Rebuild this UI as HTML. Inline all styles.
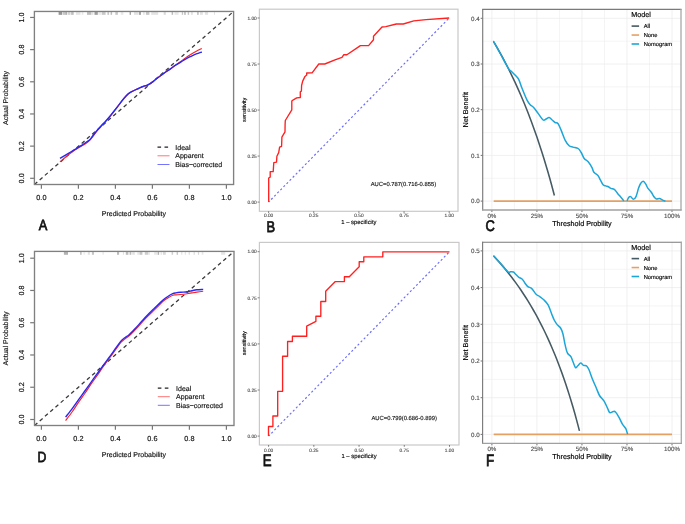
<!DOCTYPE html><html><head><meta charset="utf-8"><style>html,body{margin:0;padding:0;background:#fff;}svg{display:block;will-change:transform;}text{font-family:"Liberation Sans", sans-serif;text-rendering:geometricPrecision;}</style></head><body>
<svg width="685" height="524" viewBox="0 0 685 524">
<rect width="685" height="524" fill="#fff"/>
<g>
<line x1="41.4" y1="184.5" x2="41.4" y2="188.8" stroke="#777" stroke-width="1.2"/>
<text x="41.4" y="200" font-size="7.3" text-anchor="middle" fill="#111" stroke="#111" stroke-width="0.16">0.0</text>
<line x1="30.1" y1="178.3" x2="34.4" y2="178.3" stroke="#777" stroke-width="1.2"/>
<text x="24.4" y="178.3" font-size="7.3" text-anchor="middle" fill="#111" transform="rotate(-90 24.4 178.3)" stroke="#111" stroke-width="0.16">0.0</text>
<line x1="78.4" y1="184.5" x2="78.4" y2="188.8" stroke="#777" stroke-width="1.2"/>
<text x="78.4" y="200" font-size="7.3" text-anchor="middle" fill="#111" stroke="#111" stroke-width="0.16">0.2</text>
<line x1="30.1" y1="146.13" x2="34.4" y2="146.13" stroke="#777" stroke-width="1.2"/>
<text x="24.4" y="146.13" font-size="7.3" text-anchor="middle" fill="#111" transform="rotate(-90 24.4 146.13)" stroke="#111" stroke-width="0.16">0.2</text>
<line x1="115.4" y1="184.5" x2="115.4" y2="188.8" stroke="#777" stroke-width="1.2"/>
<text x="115.4" y="200" font-size="7.3" text-anchor="middle" fill="#111" stroke="#111" stroke-width="0.16">0.4</text>
<line x1="30.1" y1="113.96" x2="34.4" y2="113.96" stroke="#777" stroke-width="1.2"/>
<text x="24.4" y="113.96" font-size="7.3" text-anchor="middle" fill="#111" transform="rotate(-90 24.4 113.96)" stroke="#111" stroke-width="0.16">0.4</text>
<line x1="152.4" y1="184.5" x2="152.4" y2="188.8" stroke="#777" stroke-width="1.2"/>
<text x="152.4" y="200" font-size="7.3" text-anchor="middle" fill="#111" stroke="#111" stroke-width="0.16">0.6</text>
<line x1="30.1" y1="81.79" x2="34.4" y2="81.79" stroke="#777" stroke-width="1.2"/>
<text x="24.4" y="81.79" font-size="7.3" text-anchor="middle" fill="#111" transform="rotate(-90 24.4 81.79)" stroke="#111" stroke-width="0.16">0.6</text>
<line x1="189.4" y1="184.5" x2="189.4" y2="188.8" stroke="#777" stroke-width="1.2"/>
<text x="189.4" y="200" font-size="7.3" text-anchor="middle" fill="#111" stroke="#111" stroke-width="0.16">0.8</text>
<line x1="30.1" y1="49.62" x2="34.4" y2="49.62" stroke="#777" stroke-width="1.2"/>
<text x="24.4" y="49.62" font-size="7.3" text-anchor="middle" fill="#111" transform="rotate(-90 24.4 49.62)" stroke="#111" stroke-width="0.16">0.8</text>
<line x1="226.4" y1="184.5" x2="226.4" y2="188.8" stroke="#777" stroke-width="1.2"/>
<text x="226.4" y="200" font-size="7.3" text-anchor="middle" fill="#111" stroke="#111" stroke-width="0.16">1.0</text>
<line x1="30.1" y1="17.45" x2="34.4" y2="17.45" stroke="#777" stroke-width="1.2"/>
<text x="24.4" y="17.45" font-size="7.3" text-anchor="middle" fill="#111" transform="rotate(-90 24.4 17.45)" stroke="#111" stroke-width="0.16">1.0</text>
<text x="133.9" y="215.8" font-size="7" text-anchor="middle" fill="#111" stroke="#111" stroke-width="0.15">Predicted Probability</text>
<text x="7.6" y="97.98" font-size="7" text-anchor="middle" fill="#111" transform="rotate(-90 7.6 97.98)" stroke="#111" stroke-width="0.15">Actual Probability</text>
<rect x="58.6" y="11.66" width="3.5" height="3.2" fill="#000" fill-opacity="0.41"/>
<rect x="62.7" y="11.66" width="2.9" height="3.2" fill="#000" fill-opacity="0.22"/>
<rect x="65.6" y="11.66" width="1.2" height="3.2" fill="#000" fill-opacity="0.34"/>
<rect x="66.8" y="11.66" width="0.3" height="3.2" fill="#000" fill-opacity="0.22"/>
<rect x="67.7" y="11.66" width="2.3" height="3.2" fill="#000" fill-opacity="0.17"/>
<rect x="70.6" y="11.66" width="2" height="3.2" fill="#000" fill-opacity="0.22"/>
<rect x="72.6" y="11.66" width="0.9" height="3.2" fill="#000" fill-opacity="0.34"/>
<rect x="75.9" y="11.66" width="4.6" height="3.2" fill="#000" fill-opacity="0.1"/>
<rect x="81.7" y="11.66" width="1.7" height="3.2" fill="#000" fill-opacity="0.09"/>
<rect x="87" y="11.66" width="4" height="3.2" fill="#000" fill-opacity="0.25"/>
<rect x="91" y="11.66" width="2.4" height="3.2" fill="#000" fill-opacity="0.11"/>
<rect x="94.5" y="11.66" width="3.3" height="3.2" fill="#000" fill-opacity="0.38"/>
<rect x="98.3" y="11.66" width="3" height="3.2" fill="#000" fill-opacity="0.08"/>
<rect x="101.8" y="11.66" width="3.8" height="3.2" fill="#000" fill-opacity="0.21"/>
<rect x="107.4" y="11.66" width="1.7" height="3.2" fill="#000" fill-opacity="0.22"/>
<rect x="110.6" y="11.66" width="1.5" height="3.2" fill="#000" fill-opacity="0.26"/>
<rect x="115.3" y="11.66" width="2.6" height="3.2" fill="#000" fill-opacity="0.21"/>
<rect x="120.8" y="11.66" width="2.6" height="3.2" fill="#000" fill-opacity="0.09"/>
<rect x="129.6" y="11.66" width="1.4" height="3.2" fill="#000" fill-opacity="0.34"/>
<rect x="134" y="11.66" width="4.3" height="3.2" fill="#000" fill-opacity="0.11"/>
<rect x="138.9" y="11.66" width="2.1" height="3.2" fill="#000" fill-opacity="0.34"/>
<rect x="143" y="11.66" width="1.8" height="3.2" fill="#000" fill-opacity="0.09"/>
<rect x="145.9" y="11.66" width="3.5" height="3.2" fill="#000" fill-opacity="0.22"/>
<rect x="151.2" y="11.66" width="7" height="3.2" fill="#000" fill-opacity="0.11"/>
<rect x="163.7" y="11.66" width="2.1" height="3.2" fill="#000" fill-opacity="0.15"/>
<rect x="171.6" y="11.66" width="1.5" height="3.2" fill="#000" fill-opacity="0.26"/>
<rect x="174.5" y="11.66" width="4.1" height="3.2" fill="#000" fill-opacity="0.09"/>
<rect x="181.8" y="11.66" width="1.2" height="3.2" fill="#000" fill-opacity="0.22"/>
<rect x="183.9" y="11.66" width="2" height="3.2" fill="#000" fill-opacity="0.22"/>
<rect x="187.7" y="11.66" width="1.4" height="3.2" fill="#000" fill-opacity="0.22"/>
<rect x="190.9" y="11.66" width="2" height="3.2" fill="#000" fill-opacity="0.11"/>
<rect x="197" y="11.66" width="1.8" height="3.2" fill="#000" fill-opacity="0.22"/>
<rect x="200" y="11.66" width="2.9" height="3.2" fill="#000" fill-opacity="0.11"/>
<rect x="204.9" y="11.66" width="3.2" height="3.2" fill="#000" fill-opacity="0.11"/>
<rect x="214" y="11.66" width="1" height="3.2" fill="#000" fill-opacity="0.11"/>
<line x1="34.4" y1="184.5" x2="233.6" y2="11.46" stroke="#3a3a3a" stroke-width="1.3" stroke-dasharray="3.8 3.16"/>
<path d="M60,161.9 C60.92,161.12 63.72,158.68 65.5,157.2 C67.28,155.72 68.95,154.32 70.7,153 C72.45,151.68 74.25,150.43 76,149.3 C77.75,148.17 79.45,147.25 81.2,146.2 C82.95,145.15 85.1,143.97 86.5,143 C87.9,142.03 88.55,141.45 89.6,140.4 C90.65,139.35 91.57,138.27 92.8,136.7 C94.03,135.13 95.6,132.73 97,131 C98.4,129.27 99.8,127.83 101.2,126.3 C102.6,124.77 104.02,123.35 105.4,121.8 C106.78,120.25 107.65,119.28 109.5,117 C111.35,114.72 114.15,111.13 116.5,108.1 C118.85,105.07 121.65,101.17 123.6,98.8 C125.55,96.43 126.67,95.18 128.2,93.9 C129.73,92.62 131.08,92 132.8,91.1 C134.52,90.2 136.78,89.27 138.5,88.5 C140.22,87.73 141.57,87.08 143.1,86.5 C144.63,85.92 146.17,85.72 147.7,85 C149.23,84.28 151.08,83.03 152.3,82.2 C153.52,81.37 153.68,81.03 155,80 C156.32,78.97 158.48,77.28 160.2,76 C161.92,74.72 163.58,73.5 165.3,72.3 C167.02,71.1 168.78,70 170.5,68.8 C172.22,67.6 173.88,66.32 175.6,65.1 C177.32,63.88 179.08,62.75 180.8,61.5 C182.52,60.25 184.18,58.82 185.9,57.6 C187.62,56.38 189.37,55.27 191.1,54.2 C192.83,53.13 194.52,52.17 196.3,51.2 C198.08,50.23 200.88,48.87 201.8,48.4" fill="none" stroke="#ff1f1f" stroke-width="1.15" stroke-linejoin="round"/>
<path d="M60,158.3 C60.92,157.77 63.72,156.15 65.5,155.1 C67.28,154.05 68.95,153.05 70.7,152 C72.45,150.95 74.25,149.85 76,148.8 C77.75,147.75 79.45,146.83 81.2,145.7 C82.95,144.57 85.02,143.05 86.5,142 C87.98,140.95 89.05,140.45 90.1,139.4 C91.15,138.35 91.65,137.18 92.8,135.7 C93.95,134.22 95.6,132.17 97,130.5 C98.4,128.83 99.8,127.2 101.2,125.7 C102.6,124.2 104.02,122.98 105.4,121.5 C106.78,120.02 107.65,119.05 109.5,116.8 C111.35,114.55 114.15,111 116.5,108 C118.85,105 121.65,101.15 123.6,98.8 C125.55,96.45 126.67,95.18 128.2,93.9 C129.73,92.62 131.08,92 132.8,91.1 C134.52,90.2 136.78,89.27 138.5,88.5 C140.22,87.73 141.57,87.08 143.1,86.5 C144.63,85.92 146.17,85.72 147.7,85 C149.23,84.28 151.08,83.03 152.3,82.2 C153.52,81.37 153.68,81.03 155,80 C156.32,78.97 158.48,77.28 160.2,76 C161.92,74.72 163.58,73.5 165.3,72.3 C167.02,71.1 168.78,69.98 170.5,68.8 C172.22,67.62 173.88,66.32 175.6,65.2 C177.32,64.08 179.08,63.15 180.8,62.1 C182.52,61.05 184.18,59.87 185.9,58.9 C187.62,57.93 189.37,57.13 191.1,56.3 C192.83,55.47 194.52,54.62 196.3,53.9 C198.08,53.18 200.88,52.32 201.8,52" fill="none" stroke="#2828f4" stroke-width="1.4" stroke-linejoin="round"/>
<rect x="34.4" y="11.46" width="199.2" height="173.04" fill="none" stroke="#808080" stroke-width="1.35"/>
<line x1="157.5" y1="147.1" x2="169" y2="147.1" stroke="#222" stroke-width="1.1" stroke-dasharray="3.6 3.4"/>
<line x1="157.5" y1="155.8" x2="169.5" y2="155.8" stroke="#ff5050" stroke-width="0.8"/>
<line x1="157.5" y1="164.5" x2="169.5" y2="164.5" stroke="#5050ff" stroke-width="0.8"/>
<text x="175.3" y="149.6" font-size="7" text-anchor="start" fill="#111" stroke="#111" stroke-width="0.15">Ideal</text>
<text x="175.3" y="158.3" font-size="7" text-anchor="start" fill="#111" stroke="#111" stroke-width="0.15">Apparent</text>
<text x="175.3" y="167" font-size="7" text-anchor="start" fill="#111" stroke="#111" stroke-width="0.15">Bias−corrected</text>
<line x1="41.4" y1="425.5" x2="41.4" y2="429.8" stroke="#777" stroke-width="1.2"/>
<text x="41.4" y="441" font-size="7.3" text-anchor="middle" fill="#111" stroke="#111" stroke-width="0.16">0.0</text>
<line x1="30.2" y1="419.5" x2="34.5" y2="419.5" stroke="#777" stroke-width="1.2"/>
<text x="24.4" y="419.5" font-size="7.3" text-anchor="middle" fill="#111" transform="rotate(-90 24.4 419.5)" stroke="#111" stroke-width="0.16">0.0</text>
<line x1="78.4" y1="425.5" x2="78.4" y2="429.8" stroke="#777" stroke-width="1.2"/>
<text x="78.4" y="441" font-size="7.3" text-anchor="middle" fill="#111" stroke="#111" stroke-width="0.16">0.2</text>
<line x1="30.2" y1="387.24" x2="34.5" y2="387.24" stroke="#777" stroke-width="1.2"/>
<text x="24.4" y="387.24" font-size="7.3" text-anchor="middle" fill="#111" transform="rotate(-90 24.4 387.24)" stroke="#111" stroke-width="0.16">0.2</text>
<line x1="115.4" y1="425.5" x2="115.4" y2="429.8" stroke="#777" stroke-width="1.2"/>
<text x="115.4" y="441" font-size="7.3" text-anchor="middle" fill="#111" stroke="#111" stroke-width="0.16">0.4</text>
<line x1="30.2" y1="354.98" x2="34.5" y2="354.98" stroke="#777" stroke-width="1.2"/>
<text x="24.4" y="354.98" font-size="7.3" text-anchor="middle" fill="#111" transform="rotate(-90 24.4 354.98)" stroke="#111" stroke-width="0.16">0.4</text>
<line x1="152.4" y1="425.5" x2="152.4" y2="429.8" stroke="#777" stroke-width="1.2"/>
<text x="152.4" y="441" font-size="7.3" text-anchor="middle" fill="#111" stroke="#111" stroke-width="0.16">0.6</text>
<line x1="30.2" y1="322.72" x2="34.5" y2="322.72" stroke="#777" stroke-width="1.2"/>
<text x="24.4" y="322.72" font-size="7.3" text-anchor="middle" fill="#111" transform="rotate(-90 24.4 322.72)" stroke="#111" stroke-width="0.16">0.6</text>
<line x1="189.4" y1="425.5" x2="189.4" y2="429.8" stroke="#777" stroke-width="1.2"/>
<text x="189.4" y="441" font-size="7.3" text-anchor="middle" fill="#111" stroke="#111" stroke-width="0.16">0.8</text>
<line x1="30.2" y1="290.46" x2="34.5" y2="290.46" stroke="#777" stroke-width="1.2"/>
<text x="24.4" y="290.46" font-size="7.3" text-anchor="middle" fill="#111" transform="rotate(-90 24.4 290.46)" stroke="#111" stroke-width="0.16">0.8</text>
<line x1="226.4" y1="425.5" x2="226.4" y2="429.8" stroke="#777" stroke-width="1.2"/>
<text x="226.4" y="441" font-size="7.3" text-anchor="middle" fill="#111" stroke="#111" stroke-width="0.16">1.0</text>
<line x1="30.2" y1="258.2" x2="34.5" y2="258.2" stroke="#777" stroke-width="1.2"/>
<text x="24.4" y="258.2" font-size="7.3" text-anchor="middle" fill="#111" transform="rotate(-90 24.4 258.2)" stroke="#111" stroke-width="0.16">1.0</text>
<text x="133.9" y="456.8" font-size="7" text-anchor="middle" fill="#111" stroke="#111" stroke-width="0.15">Predicted Probability</text>
<text x="7.6" y="338.45" font-size="7" text-anchor="middle" fill="#111" transform="rotate(-90 7.6 338.45)" stroke="#111" stroke-width="0.15">Actual Probability</text>
<rect x="63.9" y="251.6" width="4.1" height="3.2" fill="#000" fill-opacity="0.3"/>
<rect x="80" y="251.6" width="1.7" height="3.2" fill="#000" fill-opacity="0.22"/>
<rect x="83.4" y="251.6" width="1.8" height="3.2" fill="#000" fill-opacity="0.06"/>
<rect x="87.8" y="251.6" width="2.1" height="3.2" fill="#000" fill-opacity="0.11"/>
<rect x="91.9" y="251.6" width="2.1" height="3.2" fill="#000" fill-opacity="0.22"/>
<rect x="102.4" y="251.6" width="1.5" height="3.2" fill="#000" fill-opacity="0.08"/>
<rect x="117" y="251.6" width="2.1" height="3.2" fill="#000" fill-opacity="0.26"/>
<rect x="122.9" y="251.6" width="1.1" height="3.2" fill="#000" fill-opacity="0.11"/>
<rect x="125.8" y="251.6" width="2.6" height="3.2" fill="#000" fill-opacity="0.26"/>
<rect x="129.6" y="251.6" width="1.7" height="3.2" fill="#000" fill-opacity="0.26"/>
<rect x="132.2" y="251.6" width="2.6" height="3.2" fill="#000" fill-opacity="0.11"/>
<rect x="137.2" y="251.6" width="2" height="3.2" fill="#000" fill-opacity="0.09"/>
<rect x="139.5" y="251.6" width="2.9" height="3.2" fill="#000" fill-opacity="0.22"/>
<rect x="144.8" y="251.6" width="3.5" height="3.2" fill="#000" fill-opacity="0.19"/>
<rect x="148.6" y="251.6" width="1.4" height="3.2" fill="#000" fill-opacity="0.08"/>
<rect x="154.1" y="251.6" width="2.9" height="3.2" fill="#000" fill-opacity="0.09"/>
<rect x="157.6" y="251.6" width="1.5" height="3.2" fill="#000" fill-opacity="0.3"/>
<rect x="160.5" y="251.6" width="1.5" height="3.2" fill="#000" fill-opacity="0.09"/>
<rect x="162.9" y="251.6" width="2.9" height="3.2" fill="#000" fill-opacity="0.15"/>
<rect x="171.6" y="251.6" width="1.5" height="3.2" fill="#000" fill-opacity="0.19"/>
<rect x="176.6" y="251.6" width="1.4" height="3.2" fill="#000" fill-opacity="0.22"/>
<rect x="181" y="251.6" width="1.4" height="3.2" fill="#000" fill-opacity="0.09"/>
<rect x="184.8" y="251.6" width="1.1" height="3.2" fill="#000" fill-opacity="0.11"/>
<rect x="188.6" y="251.6" width="1.4" height="3.2" fill="#000" fill-opacity="0.11"/>
<rect x="193.5" y="251.6" width="1.5" height="3.2" fill="#000" fill-opacity="0.11"/>
<rect x="197.9" y="251.6" width="1.2" height="3.2" fill="#000" fill-opacity="0.15"/>
<rect x="201.7" y="251.6" width="1.7" height="3.2" fill="#000" fill-opacity="0.09"/>
<rect x="221.1" y="251.6" width="4.1" height="3.2" fill="#000" fill-opacity="0.1"/>
<line x1="34.5" y1="425.5" x2="234" y2="251.4" stroke="#3a3a3a" stroke-width="1.3" stroke-dasharray="3.8 3.16"/>
<path d="M65.6,420.6 C66.73,419.08 70.23,414.57 72.4,411.5 C74.57,408.43 76.53,405.2 78.6,402.2 C80.67,399.2 82.73,396.5 84.8,393.5 C86.87,390.5 88.93,387.2 91,384.2 C93.07,381.2 95.12,378.5 97.2,375.5 C99.28,372.5 101.38,369.2 103.5,366.2 C105.62,363.2 107.8,360.37 109.9,357.5 C112,354.63 114.23,351.55 116.1,349 C117.97,346.45 119.65,343.87 121.1,342.2 C122.55,340.53 123.47,340.05 124.8,339 C126.13,337.95 127.45,337.35 129.1,335.9 C130.75,334.45 132.73,332.35 134.7,330.3 C136.67,328.25 138.83,325.83 140.9,323.6 C142.97,321.37 145.03,319.02 147.1,316.9 C149.17,314.78 151.32,312.83 153.3,310.9 C155.28,308.97 157.38,306.88 159,305.3 C160.62,303.72 161.53,302.6 163,301.4 C164.47,300.2 166.18,299.12 167.8,298.1 C169.42,297.08 171.35,295.83 172.7,295.3 C174.05,294.77 174.57,295.03 175.9,294.9 C177.23,294.77 178.83,294.7 180.7,294.5 C182.57,294.3 185.23,293.97 187.1,293.7 C188.97,293.43 190.28,293.17 191.9,292.9 C193.52,292.63 194.92,292.38 196.8,292.1 C198.68,291.82 202.13,291.35 203.2,291.2" fill="none" stroke="#ff1f1f" stroke-width="1.15" stroke-linejoin="round"/>
<path d="M65.6,417.1 C66.73,415.65 70.23,411.3 72.4,408.4 C74.57,405.5 76.53,402.6 78.6,399.7 C80.67,396.8 82.73,393.9 84.8,391 C86.87,388.1 88.93,385.18 91,382.3 C93.07,379.42 95.1,376.62 97.2,373.7 C99.3,370.78 101.48,367.68 103.6,364.8 C105.72,361.92 107.82,359.25 109.9,356.4 C111.98,353.55 114.23,350.28 116.1,347.7 C117.97,345.12 119.65,342.55 121.1,340.9 C122.55,339.25 123.47,338.83 124.8,337.8 C126.13,336.77 127.45,336.15 129.1,334.7 C130.75,333.25 132.73,331.17 134.7,329.1 C136.67,327.03 138.83,324.57 140.9,322.3 C142.97,320.03 145.03,317.67 147.1,315.5 C149.17,313.33 151.32,311.27 153.3,309.3 C155.28,307.33 157.38,305.23 159,303.7 C160.62,302.17 161.53,301.3 163,300.1 C164.47,298.9 166.18,297.57 167.8,296.5 C169.42,295.43 171.35,294.3 172.7,293.7 C174.05,293.1 174.57,293.13 175.9,292.9 C177.23,292.67 178.83,292.48 180.7,292.3 C182.57,292.12 185.23,292.07 187.1,291.8 C188.97,291.53 190.28,291.03 191.9,290.7 C193.52,290.37 194.92,290.02 196.8,289.8 C198.68,289.58 202.13,289.47 203.2,289.4" fill="none" stroke="#2828f4" stroke-width="1.4" stroke-linejoin="round"/>
<rect x="34.5" y="251.4" width="199.5" height="174.1" fill="none" stroke="#808080" stroke-width="1.35"/>
<line x1="157.8" y1="388.1" x2="169.3" y2="388.1" stroke="#222" stroke-width="1.1" stroke-dasharray="3.6 3.4"/>
<line x1="157.8" y1="396.7" x2="169.8" y2="396.7" stroke="#ff5050" stroke-width="0.8"/>
<line x1="157.8" y1="405.3" x2="169.8" y2="405.3" stroke="#5050ff" stroke-width="0.8"/>
<text x="176.1" y="390.6" font-size="7" text-anchor="start" fill="#111" stroke="#111" stroke-width="0.15">Ideal</text>
<text x="176.1" y="399.2" font-size="7" text-anchor="start" fill="#111" stroke="#111" stroke-width="0.15">Apparent</text>
<text x="176.1" y="407.8" font-size="7" text-anchor="start" fill="#111" stroke="#111" stroke-width="0.15">Bias−corrected</text>
<rect x="259.4" y="9.2" width="198.6" height="202.1" fill="none" stroke="#c9c9c9" stroke-width="1.2"/>
<line x1="268.6" y1="211.3" x2="268.6" y2="213.1" stroke="#333" stroke-width="0.6"/>
<text x="268.6" y="217.3" font-size="4.8" text-anchor="middle" fill="#4d4d4d" stroke="#4d4d4d" stroke-width="0.11">0.00</text>
<line x1="257.6" y1="202.1" x2="259.4" y2="202.1" stroke="#333" stroke-width="0.6"/>
<text x="256.8" y="203.8" font-size="4.8" text-anchor="end" fill="#4d4d4d" stroke="#4d4d4d" stroke-width="0.11">0.00</text>
<line x1="313.75" y1="211.3" x2="313.75" y2="213.1" stroke="#333" stroke-width="0.6"/>
<text x="313.75" y="217.3" font-size="4.8" text-anchor="middle" fill="#4d4d4d" stroke="#4d4d4d" stroke-width="0.11">0.25</text>
<line x1="257.6" y1="156.07" x2="259.4" y2="156.07" stroke="#333" stroke-width="0.6"/>
<text x="256.8" y="157.77" font-size="4.8" text-anchor="end" fill="#4d4d4d" stroke="#4d4d4d" stroke-width="0.11">0.25</text>
<line x1="358.9" y1="211.3" x2="358.9" y2="213.1" stroke="#333" stroke-width="0.6"/>
<text x="358.9" y="217.3" font-size="4.8" text-anchor="middle" fill="#4d4d4d" stroke="#4d4d4d" stroke-width="0.11">0.50</text>
<line x1="257.6" y1="110.05" x2="259.4" y2="110.05" stroke="#333" stroke-width="0.6"/>
<text x="256.8" y="111.75" font-size="4.8" text-anchor="end" fill="#4d4d4d" stroke="#4d4d4d" stroke-width="0.11">0.50</text>
<line x1="404.05" y1="211.3" x2="404.05" y2="213.1" stroke="#333" stroke-width="0.6"/>
<text x="404.05" y="217.3" font-size="4.8" text-anchor="middle" fill="#4d4d4d" stroke="#4d4d4d" stroke-width="0.11">0.75</text>
<line x1="257.6" y1="64.03" x2="259.4" y2="64.03" stroke="#333" stroke-width="0.6"/>
<text x="256.8" y="65.73" font-size="4.8" text-anchor="end" fill="#4d4d4d" stroke="#4d4d4d" stroke-width="0.11">0.75</text>
<line x1="449.2" y1="211.3" x2="449.2" y2="213.1" stroke="#333" stroke-width="0.6"/>
<text x="449.2" y="217.3" font-size="4.8" text-anchor="middle" fill="#4d4d4d" stroke="#4d4d4d" stroke-width="0.11">1.00</text>
<line x1="257.6" y1="18" x2="259.4" y2="18" stroke="#333" stroke-width="0.6"/>
<text x="256.8" y="19.7" font-size="4.8" text-anchor="end" fill="#4d4d4d" stroke="#4d4d4d" stroke-width="0.11">1.00</text>
<text x="358.9" y="223.8" font-size="5.85" text-anchor="middle" fill="#000" stroke="#000" stroke-width="0.13">1 – specificity</text>
<text x="245.6" y="109.75" font-size="5.6" text-anchor="middle" fill="#000" transform="rotate(-90 245.6 109.75)" stroke="#000" stroke-width="0.12">sensitivity</text>
<line x1="268.6" y1="202.1" x2="449.2" y2="18" stroke="#6a6aff" stroke-width="1.15" stroke-dasharray="2.1 2.3" stroke-dashoffset="0.75"/>
<polyline points="268.7,202.1 268.7,178 270.2,177.1 270.2,171.6 273.2,171.6 273.8,162.6 276.5,162.2 276.9,156.2 278.7,152.6 279.6,147.2 281.6,146.3 281.9,137.2 285,131.8 285.1,124.5 285.3,120.5 291.8,109.8 291.8,101.1 293.4,99.8 296.7,97.8 300.3,97.5 300.3,91.8 301.4,91.1 301.6,85.5 302.7,81.1 305,76.4 306.7,75 306.7,73 312.1,72.8 318.8,64 324.8,64 335,59.9 342,57.3 343.8,54.7 346.9,54.7 360.4,45.6 368.6,45.6 373.5,39.8 373.5,36.3 382,27 385.8,26.6 396.3,24 403.3,24 413.8,20.9 426.1,19.6 449.2,18" fill="none" stroke="#ff2020" stroke-width="1.35" stroke-linejoin="round"/>
<text x="436.2" y="186.3" font-size="5.85" text-anchor="end" fill="#111" stroke="#111" stroke-width="0.13">AUC=0.787(0.716-0.855)</text>
<rect x="259.4" y="242.4" width="199.6" height="202.6" fill="none" stroke="#c9c9c9" stroke-width="1.2"/>
<line x1="268.6" y1="445" x2="268.6" y2="446.8" stroke="#333" stroke-width="0.6"/>
<text x="268.6" y="451.8" font-size="4.8" text-anchor="middle" fill="#4d4d4d" stroke="#4d4d4d" stroke-width="0.11">0.00</text>
<line x1="257.6" y1="436.1" x2="259.4" y2="436.1" stroke="#333" stroke-width="0.6"/>
<text x="256.8" y="437.8" font-size="4.8" text-anchor="end" fill="#4d4d4d" stroke="#4d4d4d" stroke-width="0.11">0.00</text>
<line x1="313.83" y1="445" x2="313.83" y2="446.8" stroke="#333" stroke-width="0.6"/>
<text x="313.83" y="451.8" font-size="4.8" text-anchor="middle" fill="#4d4d4d" stroke="#4d4d4d" stroke-width="0.11">0.25</text>
<line x1="257.6" y1="390" x2="259.4" y2="390" stroke="#333" stroke-width="0.6"/>
<text x="256.8" y="391.7" font-size="4.8" text-anchor="end" fill="#4d4d4d" stroke="#4d4d4d" stroke-width="0.11">0.25</text>
<line x1="359.05" y1="445" x2="359.05" y2="446.8" stroke="#333" stroke-width="0.6"/>
<text x="359.05" y="451.8" font-size="4.8" text-anchor="middle" fill="#4d4d4d" stroke="#4d4d4d" stroke-width="0.11">0.50</text>
<line x1="257.6" y1="343.9" x2="259.4" y2="343.9" stroke="#333" stroke-width="0.6"/>
<text x="256.8" y="345.6" font-size="4.8" text-anchor="end" fill="#4d4d4d" stroke="#4d4d4d" stroke-width="0.11">0.50</text>
<line x1="404.28" y1="445" x2="404.28" y2="446.8" stroke="#333" stroke-width="0.6"/>
<text x="404.28" y="451.8" font-size="4.8" text-anchor="middle" fill="#4d4d4d" stroke="#4d4d4d" stroke-width="0.11">0.75</text>
<line x1="257.6" y1="297.8" x2="259.4" y2="297.8" stroke="#333" stroke-width="0.6"/>
<text x="256.8" y="299.5" font-size="4.8" text-anchor="end" fill="#4d4d4d" stroke="#4d4d4d" stroke-width="0.11">0.75</text>
<line x1="449.5" y1="445" x2="449.5" y2="446.8" stroke="#333" stroke-width="0.6"/>
<text x="449.5" y="451.8" font-size="4.8" text-anchor="middle" fill="#4d4d4d" stroke="#4d4d4d" stroke-width="0.11">1.00</text>
<line x1="257.6" y1="251.7" x2="259.4" y2="251.7" stroke="#333" stroke-width="0.6"/>
<text x="256.8" y="253.4" font-size="4.8" text-anchor="end" fill="#4d4d4d" stroke="#4d4d4d" stroke-width="0.11">1.00</text>
<text x="359.05" y="458.3" font-size="5.85" text-anchor="middle" fill="#000" stroke="#000" stroke-width="0.13">1 – specificity</text>
<text x="245.6" y="343.2" font-size="5.6" text-anchor="middle" fill="#000" transform="rotate(-90 245.6 343.2)" stroke="#000" stroke-width="0.12">sensitivity</text>
<line x1="268.6" y1="436.1" x2="449.5" y2="251.7" stroke="#6a6aff" stroke-width="1.15" stroke-dasharray="2.1 2.3" stroke-dashoffset="0.45"/>
<polyline points="268.5,436.1 268.5,426.5 272.9,426.5 272.9,416 277.7,416 277.7,391.3 282.6,391.3 282.6,356.2 287.6,356.2 287.6,341.5 292.4,341.5 292.4,336.2 306.7,336.2 306.7,326.2 315.9,321.4 315.9,316.2 320.8,316.2 320.8,301.5 325.7,301.5 325.7,291.2 335.3,281.6 344.4,281.6 344.4,276.7 349.3,276.7 359.2,266.7 359.2,261.7 363.8,261.7 363.8,256.8 382.8,256.8 382.8,251.8 449.5,251.8" fill="none" stroke="#ff2020" stroke-width="1.35" stroke-linejoin="round"/>
<text x="436.9" y="420.2" font-size="5.85" text-anchor="end" fill="#111" stroke="#111" stroke-width="0.13">AUC=0.799(0.686-0.899)</text>
<line x1="491.9" y1="9.4" x2="491.9" y2="210" stroke="#ebebeb" stroke-width="0.75"/>
<line x1="514.41" y1="9.4" x2="514.41" y2="210" stroke="#ebebeb" stroke-width="0.55"/>
<line x1="536.92" y1="9.4" x2="536.92" y2="210" stroke="#ebebeb" stroke-width="0.75"/>
<line x1="559.44" y1="9.4" x2="559.44" y2="210" stroke="#ebebeb" stroke-width="0.55"/>
<line x1="581.95" y1="9.4" x2="581.95" y2="210" stroke="#ebebeb" stroke-width="0.75"/>
<line x1="604.46" y1="9.4" x2="604.46" y2="210" stroke="#ebebeb" stroke-width="0.55"/>
<line x1="626.97" y1="9.4" x2="626.97" y2="210" stroke="#ebebeb" stroke-width="0.75"/>
<line x1="649.49" y1="9.4" x2="649.49" y2="210" stroke="#ebebeb" stroke-width="0.55"/>
<line x1="672" y1="9.4" x2="672" y2="210" stroke="#ebebeb" stroke-width="0.75"/>
<line x1="482.7" y1="201.1" x2="681" y2="201.1" stroke="#ebebeb" stroke-width="0.75"/>
<line x1="482.7" y1="178.25" x2="681" y2="178.25" stroke="#ebebeb" stroke-width="0.55"/>
<line x1="482.7" y1="155.4" x2="681" y2="155.4" stroke="#ebebeb" stroke-width="0.75"/>
<line x1="482.7" y1="132.55" x2="681" y2="132.55" stroke="#ebebeb" stroke-width="0.55"/>
<line x1="482.7" y1="109.7" x2="681" y2="109.7" stroke="#ebebeb" stroke-width="0.75"/>
<line x1="482.7" y1="86.85" x2="681" y2="86.85" stroke="#ebebeb" stroke-width="0.55"/>
<line x1="482.7" y1="64" x2="681" y2="64" stroke="#ebebeb" stroke-width="0.75"/>
<line x1="482.7" y1="41.15" x2="681" y2="41.15" stroke="#ebebeb" stroke-width="0.55"/>
<line x1="482.7" y1="18.3" x2="681" y2="18.3" stroke="#ebebeb" stroke-width="0.75"/>
<line x1="480.7" y1="201.1" x2="482.7" y2="201.1" stroke="#333" stroke-width="0.7"/>
<text x="479.7" y="203.3" font-size="6.2" text-anchor="end" fill="#4d4d4d" stroke="#4d4d4d" stroke-width="0.14">0.0</text>
<line x1="480.7" y1="155.4" x2="482.7" y2="155.4" stroke="#333" stroke-width="0.7"/>
<text x="479.7" y="157.6" font-size="6.2" text-anchor="end" fill="#4d4d4d" stroke="#4d4d4d" stroke-width="0.14">0.1</text>
<line x1="480.7" y1="109.7" x2="482.7" y2="109.7" stroke="#333" stroke-width="0.7"/>
<text x="479.7" y="111.9" font-size="6.2" text-anchor="end" fill="#4d4d4d" stroke="#4d4d4d" stroke-width="0.14">0.2</text>
<line x1="480.7" y1="64" x2="482.7" y2="64" stroke="#333" stroke-width="0.7"/>
<text x="479.7" y="66.2" font-size="6.2" text-anchor="end" fill="#4d4d4d" stroke="#4d4d4d" stroke-width="0.14">0.3</text>
<line x1="480.7" y1="18.3" x2="482.7" y2="18.3" stroke="#333" stroke-width="0.7"/>
<text x="479.7" y="20.5" font-size="6.2" text-anchor="end" fill="#4d4d4d" stroke="#4d4d4d" stroke-width="0.14">0.4</text>
<line x1="491.9" y1="210" x2="491.9" y2="212" stroke="#333" stroke-width="0.7"/>
<text x="491.9" y="217.8" font-size="6.2" text-anchor="middle" fill="#4d4d4d" stroke="#4d4d4d" stroke-width="0.14">0%</text>
<line x1="536.92" y1="210" x2="536.92" y2="212" stroke="#333" stroke-width="0.7"/>
<text x="536.92" y="217.8" font-size="6.2" text-anchor="middle" fill="#4d4d4d" stroke="#4d4d4d" stroke-width="0.14">25%</text>
<line x1="581.95" y1="210" x2="581.95" y2="212" stroke="#333" stroke-width="0.7"/>
<text x="581.95" y="217.8" font-size="6.2" text-anchor="middle" fill="#4d4d4d" stroke="#4d4d4d" stroke-width="0.14">50%</text>
<line x1="626.97" y1="210" x2="626.97" y2="212" stroke="#333" stroke-width="0.7"/>
<text x="626.97" y="217.8" font-size="6.2" text-anchor="middle" fill="#4d4d4d" stroke="#4d4d4d" stroke-width="0.14">75%</text>
<line x1="672" y1="210" x2="672" y2="212" stroke="#333" stroke-width="0.7"/>
<text x="672" y="217.8" font-size="6.2" text-anchor="middle" fill="#4d4d4d" stroke="#4d4d4d" stroke-width="0.14">100%</text>
<text x="581.95" y="225.5" font-size="7.2" text-anchor="middle" fill="#000" stroke="#000" stroke-width="0.16">Threshold Probility</text>
<text x="467.9" y="109.7" font-size="7.2" text-anchor="middle" fill="#000" transform="rotate(-90 467.9 109.7)" stroke="#000" stroke-width="0.16">Net Benefit</text>
<line x1="493.7" y1="201.1" x2="672" y2="201.1" stroke="#e5a064" stroke-width="1.6"/>
<polyline points="493.7,41.84 495.5,44.88 497.3,47.98 499.1,51.15 500.9,54.38 502.71,57.68 504.51,61.05 506.31,64.5 508.11,68.02 509.91,71.62 511.71,75.3 513.51,79.06 515.31,82.91 517.11,86.85 518.91,90.88 520.72,95.01 522.52,99.24 524.32,103.57 526.12,108.01 527.92,112.56 529.72,117.22 531.52,122 533.32,126.91 535.12,131.95 536.92,137.12 538.73,142.43 540.53,147.89 542.33,153.5 544.13,159.26 545.93,165.19 547.73,171.3 549.53,177.58 551.33,184.05 553.13,190.71 554.39,195.5" fill="none" stroke="#455a63" stroke-width="1.55" stroke-linejoin="round"/>
<path d="M493.7,41.5 C494.83,43.58 498.07,49.53 500.5,54 C502.93,58.47 506.47,65.38 508.3,68.3 C510.13,71.22 510.28,70.28 511.5,71.5 C512.72,72.72 514.38,74.25 515.6,75.6 C516.82,76.95 517.72,77.45 518.8,79.6 C519.88,81.75 520.75,85.12 522.1,88.5 C523.45,91.88 525.55,97.18 526.9,99.9 C528.25,102.62 529.12,103.58 530.2,104.8 C531.28,106.02 532.05,105.73 533.4,107.2 C534.75,108.67 536.68,111.47 538.3,113.6 C539.92,115.73 541.8,119.1 543.1,120 C544.4,120.9 545.1,119.4 546.1,119 C547.1,118.6 548.1,117.43 549.1,117.6 C550.1,117.77 551.1,119.18 552.1,120 C553.1,120.82 554.1,121.88 555.1,122.5 C556.1,123.12 557.1,122.43 558.1,123.7 C559.1,124.97 559.93,127.37 561.1,130.1 C562.27,132.83 563.77,137.5 565.1,140.1 C566.43,142.7 567.77,144.53 569.1,145.7 C570.43,146.87 571.6,146.63 573.1,147.1 C574.6,147.57 576.75,147.6 578.1,148.5 C579.45,149.4 580.18,150.83 581.2,152.5 C582.22,154.17 583.03,156.95 584.2,158.5 C585.37,160.05 586.9,160.27 588.2,161.8 C589.5,163.33 591.05,165.95 592,167.7 C592.95,169.45 592.92,170.98 593.9,172.3 C594.88,173.62 596.8,174.28 597.9,175.6 C599,176.92 599.63,178.67 600.5,180.2 C601.37,181.73 602.22,183.85 603.1,184.8 C603.98,185.75 604.92,185.57 605.8,185.9 C606.68,186.23 607.53,186.38 608.4,186.8 C609.27,187.22 610.02,187.97 611,188.4 C611.98,188.83 613.2,188.57 614.3,189.4 C615.4,190.23 616.5,192.08 617.6,193.4 C618.7,194.72 619.92,196.13 620.9,197.3 C621.88,198.47 623.07,199.88 623.5,200.4" fill="none" stroke="#1ba6d9" stroke-width="1.5" stroke-linejoin="round" stroke-linecap="round"/>
<path d="M627.2,200.4 C627.47,199.88 628.22,197.93 628.8,197.3 C629.38,196.67 629.93,196.27 630.7,196.6 C631.47,196.93 632.52,199.3 633.4,199.3 C634.28,199.3 635.13,198.47 636,196.6 C636.87,194.73 637.83,190.28 638.6,188.1 C639.37,185.92 639.83,184.63 640.6,183.5 C641.37,182.37 642.33,181.18 643.2,181.3 C644.07,181.42 645.03,183.07 645.8,184.2 C646.57,185.33 646.92,186.8 647.8,188.1 C648.68,189.4 650,190.47 651.1,192 C652.2,193.53 653.52,196.15 654.4,197.3 C655.28,198.45 655.53,198.68 656.4,198.9 C657.27,199.12 658.62,198.43 659.6,198.6 C660.58,198.77 661.42,199.5 662.3,199.9 C663.18,200.3 664.47,200.82 664.9,201" fill="none" stroke="#1ba6d9" stroke-width="1.5" stroke-linejoin="round" stroke-linecap="round"/>
<line x1="482.7" y1="8.9" x2="482.7" y2="210.6" stroke="#7a7a7a" stroke-width="1.15"/>
<line x1="482.2" y1="9.4" x2="681.6" y2="9.4" stroke="#7a7a7a" stroke-width="1.15"/>
<line x1="681" y1="8.9" x2="681" y2="210.6" stroke="#a8a8a8" stroke-width="1.3"/>
<line x1="482.2" y1="210" x2="681.6" y2="210" stroke="#a0a0a0" stroke-width="1.3"/>
<text x="631.2" y="17.3" font-size="7.2" text-anchor="start" fill="#000" stroke="#000" stroke-width="0.16">Model</text>
<line x1="631.6" y1="26.1" x2="639.1" y2="26.1" stroke="#455a63" stroke-width="1.6"/>
<text x="643.7" y="28.1" font-size="5.75" text-anchor="start" fill="#000" stroke="#000" stroke-width="0.13">All</text>
<line x1="631.6" y1="35.05" x2="639.1" y2="35.05" stroke="#e5a064" stroke-width="1.6"/>
<text x="643.7" y="37.05" font-size="5.75" text-anchor="start" fill="#000" stroke="#000" stroke-width="0.13">None</text>
<line x1="631.6" y1="44" x2="639.1" y2="44" stroke="#1ba6d9" stroke-width="1.6"/>
<text x="643.7" y="46" font-size="5.75" text-anchor="start" fill="#000" stroke="#000" stroke-width="0.13">Nomogram</text>
<line x1="491.9" y1="242.2" x2="491.9" y2="443.4" stroke="#ebebeb" stroke-width="0.75"/>
<line x1="514.41" y1="242.2" x2="514.41" y2="443.4" stroke="#ebebeb" stroke-width="0.55"/>
<line x1="536.92" y1="242.2" x2="536.92" y2="443.4" stroke="#ebebeb" stroke-width="0.75"/>
<line x1="559.44" y1="242.2" x2="559.44" y2="443.4" stroke="#ebebeb" stroke-width="0.55"/>
<line x1="581.95" y1="242.2" x2="581.95" y2="443.4" stroke="#ebebeb" stroke-width="0.75"/>
<line x1="604.46" y1="242.2" x2="604.46" y2="443.4" stroke="#ebebeb" stroke-width="0.55"/>
<line x1="626.97" y1="242.2" x2="626.97" y2="443.4" stroke="#ebebeb" stroke-width="0.75"/>
<line x1="649.49" y1="242.2" x2="649.49" y2="443.4" stroke="#ebebeb" stroke-width="0.55"/>
<line x1="672" y1="242.2" x2="672" y2="443.4" stroke="#ebebeb" stroke-width="0.75"/>
<line x1="482.6" y1="434.4" x2="681.3" y2="434.4" stroke="#ebebeb" stroke-width="0.75"/>
<line x1="482.6" y1="416.05" x2="681.3" y2="416.05" stroke="#ebebeb" stroke-width="0.55"/>
<line x1="482.6" y1="397.7" x2="681.3" y2="397.7" stroke="#ebebeb" stroke-width="0.75"/>
<line x1="482.6" y1="379.35" x2="681.3" y2="379.35" stroke="#ebebeb" stroke-width="0.55"/>
<line x1="482.6" y1="361" x2="681.3" y2="361" stroke="#ebebeb" stroke-width="0.75"/>
<line x1="482.6" y1="342.65" x2="681.3" y2="342.65" stroke="#ebebeb" stroke-width="0.55"/>
<line x1="482.6" y1="324.3" x2="681.3" y2="324.3" stroke="#ebebeb" stroke-width="0.75"/>
<line x1="482.6" y1="305.95" x2="681.3" y2="305.95" stroke="#ebebeb" stroke-width="0.55"/>
<line x1="482.6" y1="287.6" x2="681.3" y2="287.6" stroke="#ebebeb" stroke-width="0.75"/>
<line x1="482.6" y1="269.25" x2="681.3" y2="269.25" stroke="#ebebeb" stroke-width="0.55"/>
<line x1="482.6" y1="250.9" x2="681.3" y2="250.9" stroke="#ebebeb" stroke-width="0.75"/>
<line x1="480.6" y1="434.4" x2="482.6" y2="434.4" stroke="#333" stroke-width="0.7"/>
<text x="479.6" y="436.6" font-size="6.2" text-anchor="end" fill="#4d4d4d" stroke="#4d4d4d" stroke-width="0.14">0.0</text>
<line x1="480.6" y1="397.7" x2="482.6" y2="397.7" stroke="#333" stroke-width="0.7"/>
<text x="479.6" y="399.9" font-size="6.2" text-anchor="end" fill="#4d4d4d" stroke="#4d4d4d" stroke-width="0.14">0.1</text>
<line x1="480.6" y1="361" x2="482.6" y2="361" stroke="#333" stroke-width="0.7"/>
<text x="479.6" y="363.2" font-size="6.2" text-anchor="end" fill="#4d4d4d" stroke="#4d4d4d" stroke-width="0.14">0.2</text>
<line x1="480.6" y1="324.3" x2="482.6" y2="324.3" stroke="#333" stroke-width="0.7"/>
<text x="479.6" y="326.5" font-size="6.2" text-anchor="end" fill="#4d4d4d" stroke="#4d4d4d" stroke-width="0.14">0.3</text>
<line x1="480.6" y1="287.6" x2="482.6" y2="287.6" stroke="#333" stroke-width="0.7"/>
<text x="479.6" y="289.8" font-size="6.2" text-anchor="end" fill="#4d4d4d" stroke="#4d4d4d" stroke-width="0.14">0.4</text>
<line x1="480.6" y1="250.9" x2="482.6" y2="250.9" stroke="#333" stroke-width="0.7"/>
<text x="479.6" y="253.1" font-size="6.2" text-anchor="end" fill="#4d4d4d" stroke="#4d4d4d" stroke-width="0.14">0.5</text>
<line x1="491.9" y1="443.4" x2="491.9" y2="445.4" stroke="#333" stroke-width="0.7"/>
<text x="491.9" y="451.2" font-size="6.2" text-anchor="middle" fill="#4d4d4d" stroke="#4d4d4d" stroke-width="0.14">0%</text>
<line x1="536.92" y1="443.4" x2="536.92" y2="445.4" stroke="#333" stroke-width="0.7"/>
<text x="536.92" y="451.2" font-size="6.2" text-anchor="middle" fill="#4d4d4d" stroke="#4d4d4d" stroke-width="0.14">25%</text>
<line x1="581.95" y1="443.4" x2="581.95" y2="445.4" stroke="#333" stroke-width="0.7"/>
<text x="581.95" y="451.2" font-size="6.2" text-anchor="middle" fill="#4d4d4d" stroke="#4d4d4d" stroke-width="0.14">50%</text>
<line x1="626.97" y1="443.4" x2="626.97" y2="445.4" stroke="#333" stroke-width="0.7"/>
<text x="626.97" y="451.2" font-size="6.2" text-anchor="middle" fill="#4d4d4d" stroke="#4d4d4d" stroke-width="0.14">75%</text>
<line x1="672" y1="443.4" x2="672" y2="445.4" stroke="#333" stroke-width="0.7"/>
<text x="672" y="451.2" font-size="6.2" text-anchor="middle" fill="#4d4d4d" stroke="#4d4d4d" stroke-width="0.14">100%</text>
<text x="581.95" y="458.9" font-size="7.2" text-anchor="middle" fill="#000" stroke="#000" stroke-width="0.16">Threshold Probility</text>
<text x="467.9" y="342.8" font-size="7.2" text-anchor="middle" fill="#000" transform="rotate(-90 467.9 342.8)" stroke="#000" stroke-width="0.16">Net Benefit</text>
<line x1="493.7" y1="434.4" x2="672" y2="434.4" stroke="#e5a064" stroke-width="1.6"/>
<polyline points="493.7,256.09 495.5,258.02 497.3,259.98 499.1,261.99 500.9,264.03 502.71,266.13 504.51,268.26 506.31,270.45 508.11,272.68 509.91,274.96 511.71,277.29 513.51,279.68 515.31,282.12 517.11,284.61 518.91,287.17 520.72,289.78 522.52,292.46 524.32,295.21 526.12,298.02 527.92,300.9 529.72,303.86 531.52,306.89 533.32,310 535.12,313.19 536.92,316.47 538.73,319.84 540.53,323.29 542.33,326.85 544.13,330.5 545.93,334.26 547.73,338.13 549.53,342.11 551.33,346.21 553.13,350.43 554.93,354.79 556.74,359.28 558.54,363.91 560.34,368.7 562.14,373.63 563.94,378.74 565.74,384.02 567.54,389.47 569.34,395.12 571.14,400.98 572.95,407.04 574.75,413.33 576.55,419.86 578.35,426.64 579.43,430.83" fill="none" stroke="#455a63" stroke-width="1.55" stroke-linejoin="round"/>
<path d="M493.7,256 C494.92,257.33 498.57,261.33 501,264 C503.43,266.67 506.75,270.7 508.3,272 C509.85,273.3 509.45,271.8 510.3,271.8 C511.15,271.8 512.53,271.63 513.4,272 C514.27,272.37 514.63,273.15 515.5,274 C516.37,274.85 517.47,276.23 518.6,277.1 C519.73,277.97 521.25,278.22 522.3,279.2 C523.35,280.18 523.98,281.77 524.9,283 C525.82,284.23 526.65,285.67 527.8,286.6 C528.95,287.53 530.42,287.32 531.8,288.6 C533.18,289.88 534.82,293 536.1,294.3 C537.38,295.6 538.22,295.48 539.5,296.4 C540.78,297.32 542.37,298.38 543.8,299.8 C545.23,301.22 546.82,302.62 548.1,304.9 C549.38,307.18 550.48,310.98 551.5,313.5 C552.52,316.02 553.25,318.15 554.2,320 C555.15,321.85 556.13,323.27 557.2,324.6 C558.27,325.93 559.65,326.48 560.6,328 C561.55,329.52 562.13,330.83 562.9,333.7 C563.67,336.57 564.43,341.95 565.2,345.2 C565.97,348.45 566.55,351.3 567.5,353.2 C568.45,355.1 569.95,355.08 570.9,356.6 C571.85,358.12 572.43,360.47 573.2,362.3 C573.97,364.13 574.73,367.02 575.5,367.6 C576.27,368.18 576.93,366.57 577.8,365.8 C578.67,365.03 579.75,363.08 580.7,363 C581.65,362.92 582.47,364.77 583.5,365.3 C584.53,365.83 585.95,365.37 586.9,366.2 C587.85,367.03 588.25,368.08 589.2,370.3 C590.15,372.52 591.45,376.63 592.6,379.5 C593.75,382.37 594.95,384.83 596.1,387.5 C597.25,390.17 598.17,393.22 599.5,395.5 C600.83,397.78 602.77,399.1 604.1,401.2 C605.43,403.3 606.55,406.18 607.5,408.1 C608.45,410.02 608.85,412.13 609.8,412.7 C610.75,413.27 612.25,411.62 613.2,411.5 C614.15,411.38 614.53,411.03 615.5,412 C616.47,412.97 617.85,415.28 619,417.3 C620.15,419.32 621.27,422.2 622.4,424.1 C623.53,426 624.97,427.12 625.8,428.7 C626.63,430.28 627.13,432.78 627.4,433.6" fill="none" stroke="#1ba6d9" stroke-width="1.5" stroke-linejoin="round" stroke-linecap="round"/>
<line x1="482.6" y1="241.7" x2="482.6" y2="444" stroke="#7a7a7a" stroke-width="1.15"/>
<line x1="482.1" y1="242.2" x2="681.9" y2="242.2" stroke="#7a7a7a" stroke-width="1.15"/>
<line x1="681.3" y1="241.7" x2="681.3" y2="444" stroke="#a8a8a8" stroke-width="1.3"/>
<line x1="482.1" y1="443.4" x2="681.9" y2="443.4" stroke="#a0a0a0" stroke-width="1.3"/>
<text x="631.2" y="249.8" font-size="7.2" text-anchor="start" fill="#000" stroke="#000" stroke-width="0.16">Model</text>
<line x1="631.6" y1="258.6" x2="639.1" y2="258.6" stroke="#455a63" stroke-width="1.6"/>
<text x="643.7" y="260.6" font-size="5.75" text-anchor="start" fill="#000" stroke="#000" stroke-width="0.13">All</text>
<line x1="631.6" y1="267.55" x2="639.1" y2="267.55" stroke="#e5a064" stroke-width="1.6"/>
<text x="643.7" y="269.55" font-size="5.75" text-anchor="start" fill="#000" stroke="#000" stroke-width="0.13">None</text>
<line x1="631.6" y1="276.5" x2="639.1" y2="276.5" stroke="#1ba6d9" stroke-width="1.6"/>
<text x="643.7" y="278.5" font-size="5.75" text-anchor="start" fill="#000" stroke="#000" stroke-width="0.13">Nomogram</text>
<text x="0" y="0" font-size="14.9" fill="#111" stroke="#111" stroke-width="0.75" transform="translate(38.8 229.6) scale(0.86 1)">A</text>
<text x="0" y="0" font-size="15.4" fill="#111" stroke="#111" stroke-width="0.75" transform="translate(266.6 232.2) scale(0.84 1)">B</text>
<text x="0" y="0" font-size="15.4" fill="#111" stroke="#111" stroke-width="0.75" transform="translate(485.6 231) scale(0.84 1)">C</text>
<text x="0" y="0" font-size="14.6" fill="#111" stroke="#111" stroke-width="0.75" transform="translate(37.6 461.6) scale(0.84 1)">D</text>
<text x="0" y="0" font-size="16.6" fill="#111" stroke="#111" stroke-width="0.75" transform="translate(262.8 466.2) scale(0.8 1)">E</text>
<text x="0" y="0" font-size="16.4" fill="#111" stroke="#111" stroke-width="0.75" transform="translate(485.9 466) scale(0.82 1)">F</text>
</g></svg></body></html>
